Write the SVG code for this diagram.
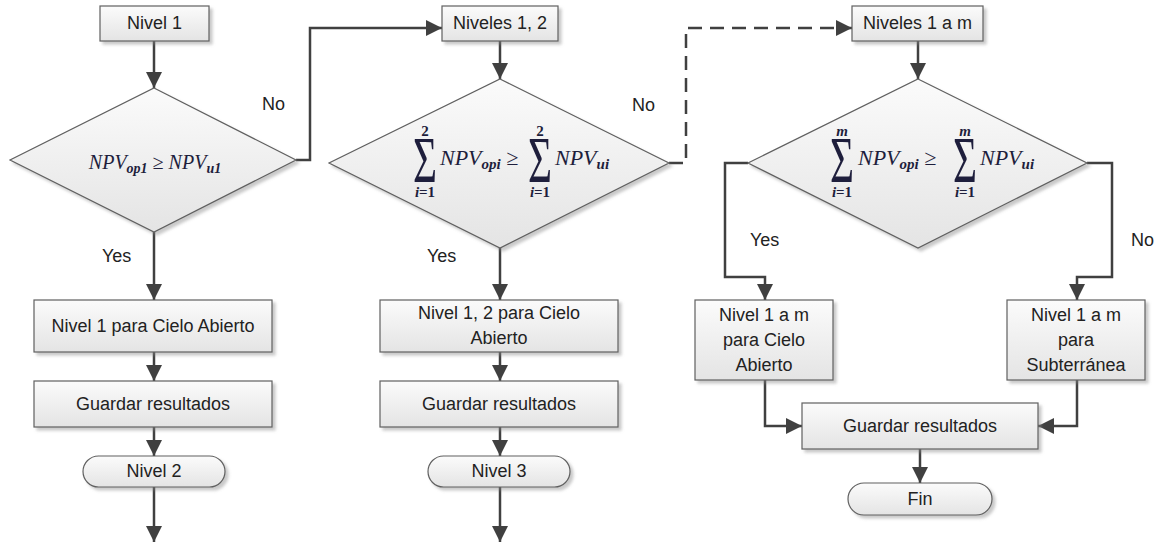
<svg xmlns="http://www.w3.org/2000/svg" width="1163" height="544" viewBox="0 0 1163 544">
<defs>
<linearGradient id="g" x1="0" y1="0" x2="0" y2="1"><stop offset="0" stop-color="#fbfbfb"/><stop offset="1" stop-color="#e4e4e4"/></linearGradient>
<filter id="sh" x="-10%" y="-10%" width="130%" height="140%"><feDropShadow dx="3" dy="3" stdDeviation="1.5" flood-color="#888" flood-opacity="0.45"/></filter>
<marker id="ah" markerUnits="userSpaceOnUse" markerWidth="16" markerHeight="16" refX="16" refY="8" orient="auto"><path d="M0,0 L16,8 L0,16 z" fill="#404040"/></marker>
</defs>
<style>
.box{fill:url(#g);stroke:#606060;stroke-width:1.2;filter:url(#sh)}
.t{font-family:"Liberation Sans",Arial,sans-serif;font-size:18px;fill:#222;text-anchor:middle}
.l{font-family:"Liberation Sans",Arial,sans-serif;font-size:18px;fill:#222}
.c{fill:none;stroke:#404040;stroke-width:2.5}
.d{stroke-dasharray:14 8}
.m{font-family:"Liberation Serif","Times New Roman",serif;font-style:italic;fill:#1e1e3c}
.f{font-family:"Liberation Serif","Times New Roman",serif;fill:#1e1e3c}
.lim{font-size:15px;font-weight:bold;text-anchor:middle}
.sig{font-size:66px;font-style:normal}
.np{font-size:22px;font-style:italic}
.sb{font-size:15px;font-weight:bold;font-style:italic}
</style>
<rect width="1163" height="544" fill="#fff"/>
<g id="connectors">
<path class="c" d="M154,41 V88" marker-end="url(#ah)"/>
<path class="c" d="M154,232 V300" marker-end="url(#ah)"/>
<path class="c" d="M154,352 V381" marker-end="url(#ah)"/>
<path class="c" d="M154,427 V456" marker-end="url(#ah)"/>
<path class="c" d="M154,487 V542" marker-end="url(#ah)"/>
<path class="c" d="M296,160 H310 V28 H442" marker-end="url(#ah)"/>
<path class="c" d="M500,41 V79" marker-end="url(#ah)"/>
<path class="c" d="M500,248 V300" marker-end="url(#ah)"/>
<path class="c" d="M500,352 V381" marker-end="url(#ah)"/>
<path class="c" d="M500,427 V456" marker-end="url(#ah)"/>
<path class="c" d="M500,487 V542" marker-end="url(#ah)"/>
<path class="c d" d="M669,163 H686 V28 H852" marker-end="url(#ah)"/>
<path class="c" d="M918,41 V79" marker-end="url(#ah)"/>
<path class="c" d="M748,163 H725 V277 H765 V300" marker-end="url(#ah)"/>
<path class="c" d="M1087,163 H1112 V277 H1077 V300" marker-end="url(#ah)"/>
<path class="c" d="M765,380 V426 H802" marker-end="url(#ah)"/>
<path class="c" d="M1077,380 V426 H1038" marker-end="url(#ah)"/>
<path class="c" d="M920,449 V483" marker-end="url(#ah)"/>
<text class="l" x="262" y="110">No</text>
<text class="l" x="102" y="262">Yes</text>
<text class="l" x="632" y="111">No</text>
<text class="l" x="427" y="262">Yes</text>
<text class="l" x="750" y="246">Yes</text>
<text class="l" x="1131" y="246">No</text>
</g>
<g id="n1"><rect class="box" x="100" y="6" width="109" height="35"/><text class="t" x="154.5" y="29">Nivel 1</text></g>
<g id="d1"><path class="box" d="M154,88 L296,160 L154,232 L10,160 z"/>
<text class="m" x="155" y="169" font-size="20" text-anchor="middle">NPV<tspan dy="4" font-size="14" font-weight="bold">op1</tspan><tspan dy="-4"> ≥ </tspan>NPV<tspan dy="4" font-size="14" font-weight="bold">u1</tspan></text></g>
<g id="n2"><rect class="box" x="34" y="300" width="238" height="52"/><text class="t" x="153" y="332">Nivel 1 para Cielo Abierto</text></g>
<g id="n3"><rect class="box" x="34" y="381" width="238" height="46"/><text class="t" x="153" y="410">Guardar resultados</text></g>
<g id="n4"><rect class="box" x="83" y="456" width="142" height="31" rx="15.5"/><text class="t" x="154" y="477">Nivel 2</text></g>

<g id="n5"><rect class="box" x="442" y="6" width="116" height="35"/><text class="t" x="500" y="29">Niveles 1, 2</text></g>
<g id="d2"><path class="box" d="M500,79 L669,163 L500,248 L329,163 z"/>
<text class="f"><tspan class="lim" x="425" y="136">2</tspan><tspan class="sig" x="413" y="182" textLength="24" lengthAdjust="spacingAndGlyphs">Σ</tspan><tspan class="lim" x="425" y="197"><tspan font-style="italic">i</tspan>=1</tspan><tspan class="np" x="440" y="165">NPV</tspan><tspan class="sb" dy="4">opi</tspan><tspan class="np" dy="-4"> ≥</tspan><tspan class="lim" x="540" y="136">2</tspan><tspan class="sig" x="528" y="182" textLength="24" lengthAdjust="spacingAndGlyphs">Σ</tspan><tspan class="lim" x="540" y="197"><tspan font-style="italic">i</tspan>=1</tspan><tspan class="np" x="555" y="165">NPV</tspan><tspan class="sb" dy="4">ui</tspan></text></g>
<g id="n6"><rect class="box" x="380" y="300" width="238" height="52"/><text class="t" x="499" y="319">Nivel 1, 2 para Cielo</text><text class="t" x="499" y="344">Abierto</text></g>
<g id="n7"><rect class="box" x="380" y="381" width="238" height="46"/><text class="t" x="499" y="410">Guardar resultados</text></g>
<g id="n8"><rect class="box" x="428" y="456" width="142" height="31" rx="15.5"/><text class="t" x="499" y="477">Nivel 3</text></g>

<g id="n9"><rect class="box" x="852" y="6" width="131" height="35"/><text class="t" x="917.5" y="29">Niveles 1 a m</text></g>
<g id="d3"><path class="box" d="M918,79 L1087,163 L918,248 L748,163 z"/>
<text class="f"><tspan class="lim" x="842" y="136" font-style="italic" font-weight="normal">m</tspan><tspan class="sig" x="830" y="182" textLength="24" lengthAdjust="spacingAndGlyphs">Σ</tspan><tspan class="lim" x="842" y="197"><tspan font-style="italic">i</tspan>=1</tspan><tspan class="np" x="858" y="165">NPV</tspan><tspan class="sb" dy="4">opi</tspan><tspan class="np" dy="-4"> ≥</tspan><tspan class="lim" x="965" y="136" font-style="italic" font-weight="normal">m</tspan><tspan class="sig" x="953" y="182" textLength="24" lengthAdjust="spacingAndGlyphs">Σ</tspan><tspan class="lim" x="965" y="197"><tspan font-style="italic">i</tspan>=1</tspan><tspan class="np" x="980" y="165">NPV</tspan><tspan class="sb" dy="4">ui</tspan></text></g>
<g id="n10"><rect class="box" x="695" y="300" width="138" height="80"/><text class="t" x="764" y="321">Nivel 1 a m</text><text class="t" x="764" y="346">para Cielo</text><text class="t" x="764" y="371">Abierto</text></g>
<g id="n11"><rect class="box" x="1007" y="300" width="138" height="80"/><text class="t" x="1076" y="321">Nivel 1 a m</text><text class="t" x="1076" y="346">para</text><text class="t" x="1076" y="371">Subterránea</text></g>
<g id="n12"><rect class="box" x="802" y="403" width="236" height="46"/><text class="t" x="920" y="432">Guardar resultados</text></g>
<g id="n13"><rect class="box" x="848" y="483" width="144" height="32" rx="16"/><text class="t" x="920" y="505">Fin</text></g>
</svg>
